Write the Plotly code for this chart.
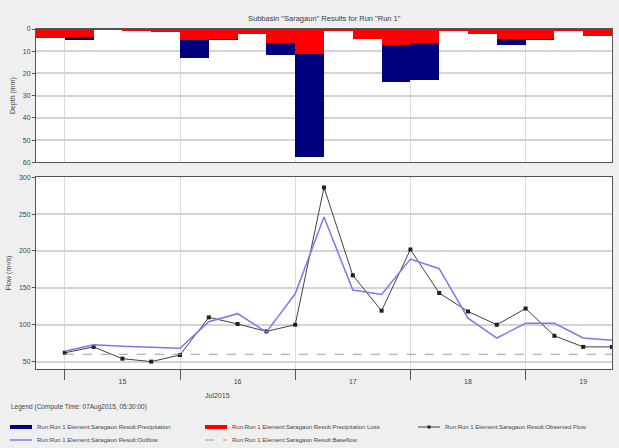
import pandas as pd
import plotly.graph_objects as go
from plotly.subplots import make_subplots

# 6-hourly results, Jul 15 00:00 .. Jul 19 18:00
times = pd.date_range("2015-07-15 00:00", periods=20, freq="6h")

precip = [4.2, 5.0, 0.3, 0.5, 1.2, 12.9, 5.0, 2.3, 11.8, 57.5,
          1.0, 4.5, 23.9, 23.1, 1.0, 2.2, 7.0, 5.0, 1.0, 3.0]
precip_loss = [4.2, 3.8, 0.3, 0.5, 1.2, 5.0, 4.5, 2.3, 6.2, 11.4,
               1.0, 4.5, 7.2, 6.5, 1.0, 2.2, 4.4, 4.3, 1.0, 3.0]
observed = [62, 70, 54, 50, 59, 110, 101, 91, 100, 286,
            167, 119, 202, 143, 118, 100, 122, 85, 70, 70]
outflow = [64, 73, 71, 69, 68, 104, 115, 90, 142, 246,
           147, 141, 189, 176, 109, 82, 102, 102, 82, 79]
baseflow = [60, 60, 60, 60, 60, 60, 60, 60, 60, 60,
            60, 60, 60, 60, 60, 60, 60, 60, 60, 60]

day_bounds = ["2015-07-15", "2015-07-16", "2015-07-17", "2015-07-18", "2015-07-19"]
day_mid = ["2015-07-15 12:00", "2015-07-16 12:00", "2015-07-17 12:00",
           "2015-07-18 12:00", "2015-07-19 12:00"]
day_labels = ["15", "16", "17", "18", "19"]

prefix = "Run:Run 1 Element:Saragaun Result:"
bar_w = 6 * 3600 * 1000

PRECIP_C = "#00007f"
LOSS_C = "#ff0000"
OBS_C = "#404040"
OUT_C = "#7b78f0"
BASE_C = "#b89090"
TXT_C = "#444444"

fig = make_subplots(rows=2, cols=1, shared_xaxes=True, vertical_spacing=0.044,
                    row_heights=[0.41, 0.59])

fig.add_trace(go.Bar(
    x=times, y=precip, width=bar_w, offset=-bar_w,
    marker=dict(color=PRECIP_C, line=dict(width=0)),
    name=prefix + "Precipitation",
), row=1, col=1)
fig.add_trace(go.Bar(
    x=times, y=precip_loss, width=bar_w, offset=-bar_w,
    marker=dict(color=LOSS_C, line=dict(width=0)),
    name=prefix + "Precipitation Loss",
), row=1, col=1)
fig.add_trace(go.Scatter(
    x=times, y=observed, mode="lines+markers",
    line=dict(color=OBS_C, width=1),
    marker=dict(color="#202020", size=4, symbol="square"),
    name=prefix + "Observed Flow",
), row=2, col=1)
fig.add_trace(go.Scatter(
    x=times, y=outflow, mode="lines",
    line=dict(color=OUT_C, width=1.5),
    name=prefix + "Outflow",
), row=2, col=1)
fig.add_trace(go.Scatter(
    x=times, y=baseflow, mode="lines",
    line=dict(color=BASE_C, width=1, dash="dash"),
    name=prefix + "Baseflow",
), row=2, col=1)

axis_common = dict(
    showline=True, mirror=True, linecolor="#555555", linewidth=1,
    tickfont=dict(size=7, color=TXT_C),
)

fig.update_xaxes(
    type="date", range=["2015-07-14 18:00", "2015-07-19 18:00"],
    tickmode="array", tickvals=day_mid, ticktext=day_labels, ticks="",
    showgrid=False, ticklabelstandoff=6,
    minor=dict(tickmode="array", tickvals=day_bounds, showgrid=True,
               gridcolor="#dcdcdc", gridwidth=1, ticks="outside",
               ticklen=10, tickcolor="#555555"),
    **axis_common,
)
fig.update_xaxes(showticklabels=False, minor=dict(ticks=""), row=1, col=1)

fig.update_yaxes(
    range=[60, 0], tickvals=[0, 10, 20, 30, 40, 50, 60],
    ticks="outside", ticklen=3, tickcolor="#555555",
    gridcolor="#d4d4d4", gridwidth=1.5, zeroline=False,
    title=dict(text="Depth (mm)", font=dict(size=7, color=TXT_C), standoff=6),
    row=1, col=1, **axis_common,
)
fig.update_yaxes(
    range=[40, 300], tickvals=[50, 100, 150, 200, 250, 300],
    ticks="outside", ticklen=3, tickcolor="#555555",
    gridcolor="#d4d4d4", gridwidth=1.5, zeroline=False,
    title=dict(text="Flow (m³/s)", font=dict(size=7, color=TXT_C), standoff=6),
    row=2, col=1, **axis_common,
)


# pixel -> paper helpers (plot area spans x 36..612, y 29..369)
def px(x):
    return (x - 36) / 576


def py(y):
    return (369 - y) / 340


fig.add_annotation(text='Subbasin "Saragaun" Results for Run "Run 1"',
                   xref="paper", yref="paper", x=0.5, y=py(12),
                   showarrow=False, font=dict(size=7.5, color="#3a3a3a"))
fig.add_annotation(text="Jul2015", xref="paper", yref="paper", x=px(203), y=py(401),
                   showarrow=False, font=dict(size=7, color=TXT_C))
fig.add_annotation(text="Legend (Compute Time: 07Aug2015, 05:30:00)",
                   xref="paper", yref="paper", x=px(9), y=py(413),
                   xanchor="left", showarrow=False,
                   font=dict(size=6.5, color=TXT_C))

# hand-made legend laid out like the original three-column key
legend_rows = [
    (10, 427, "Precipitation", dict(color=PRECIP_C, width=4), False),
    (205, 427, "Precipitation Loss", dict(color=LOSS_C, width=4), False),
    (418, 427, "Observed Flow", dict(color=OBS_C, width=1), True),
    (10, 440, "Outflow", dict(color=OUT_C, width=1.5), False),
    (205, 440, "Baseflow", dict(color=BASE_C, width=1, dash="dash"), False),
]
for x0, y0, label, line, marker in legend_rows:
    fig.add_shape(type="line", xref="paper", yref="paper",
                  x0=px(x0), x1=px(x0 + 22), y0=py(y0), y1=py(y0), line=line)
    if marker:
        fig.add_shape(type="rect", xref="paper", yref="paper",
                      x0=px(x0 + 9.5), x1=px(x0 + 12.5),
                      y0=py(y0 - 1.5), y1=py(y0 + 1.5),
                      fillcolor="#202020", line=dict(width=0))
    fig.add_annotation(text=prefix + label, xref="paper", yref="paper",
                       x=px(x0 + 25), y=py(y0), xanchor="left", yanchor="middle",
                       showarrow=False, font=dict(size=6, color=TXT_C))

fig.update_layout(
    width=619, height=448,
    margin=dict(l=36, r=7, t=29, b=79, autoexpand=False),
    paper_bgcolor="#efefef", plot_bgcolor="#ffffff",
    barmode="overlay", bargap=0,
    font=dict(family="Liberation Sans, Arial, sans-serif", size=7, color=TXT_C),
    showlegend=False,
)

# the page's default 8px body margin would push the figure off the window
fig.write_html("out.html", config={"displayModeBar": False},
               post_script="document.body.style.margin='0';")
